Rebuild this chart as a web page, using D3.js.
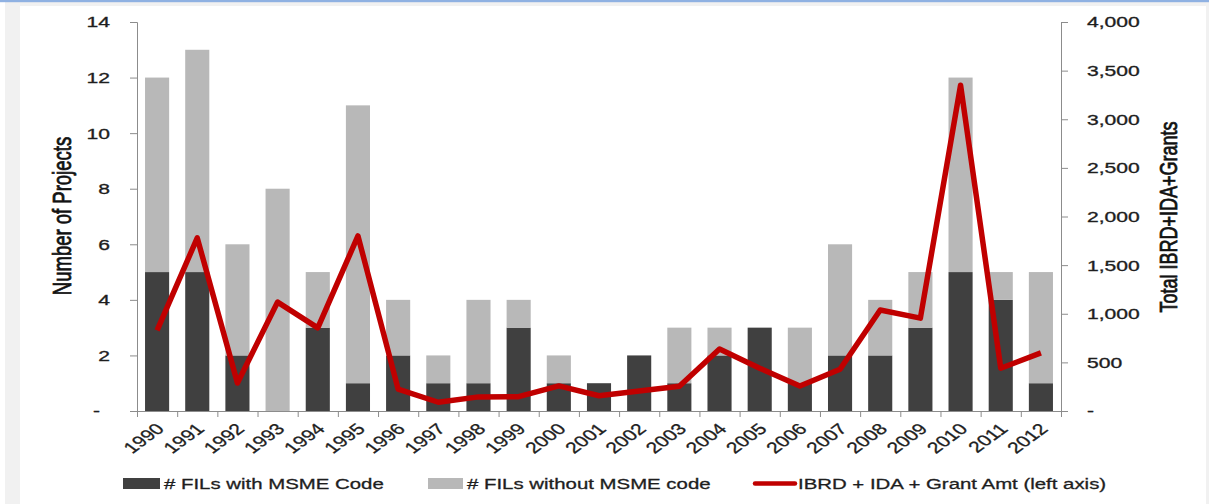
<!DOCTYPE html>
<html>
<head>
<meta charset="utf-8">
<script src="https://cdn.jsdelivr.net/npm/d3@7"></script>
<style>
  html, body { margin: 0; padding: 0; background: #ffffff; }
  svg { display: block; }
  text { font-family: "Liberation Sans", Arial, sans-serif; }
</style>
</head>
<body>
<svg id="chart" width="1209" height="504"></svg>
<script>
// ---- data ----
const years = ["1990","1991","1992","1993","1994","1995","1996","1997","1998","1999","2000","2001","2002","2003","2004","2005","2006","2007","2008","2009","2010","2011","2012"];
const withCode    = [5,5,2,0,3,1,2,1,1,3,1,1,2,1,2,3,1,2,2,3,5,4,1];
const withoutCode = [7,8,4,8,2,10,2,1,3,1,1,0,0,2,1,0,2,4,2,2,7,1,4];
const amount      = [830,1780,288,1120,855,1800,225,90,145,147,258,157,206,255,638,440,257,430,1038,955,3350,440,597];
const leftTicks  = [0,2,4,6,8,10,12,14];
const rightTicks = [0,500,1000,1500,2000,2500,3000,3500,4000];
const seriesNames = ["# FILs with MSME Code", "# FILs without MSME code", "IBRD + IDA + Grant Amt (left axis)"];
const axisTitles = ["Number of Projects", "Total IBRD+IDA+Grants"];

// ---- styling / layout ----
const SX = 1.36;               // horizontal stretch of the reference rendering
const C_DARK = "#404040", C_LIGHT = "#b8b8b8", C_RED = "#c00000", C_AXIS = "#8c8c8c", C_TEXT = "#1e1e1e";
const X0 = 137, X1 = 1061, Y0 = 411, Y1 = 22;

const svg = d3.select("#chart");

// page frame
svg.append("rect").attr("x", 0).attr("y", 0).attr("width", 1209).attr("height", 504).attr("fill", "#ffffff");
svg.append("rect").attr("x", 5).attr("y", 2).attr("width", 1204).attr("height", 502).attr("fill", "#f1f1f1");
svg.append("rect").attr("x", 20).attr("y", 6).attr("width", 1186).attr("height", 498).attr("fill", "#ffffff");
svg.append("rect").attr("x", 0).attr("y", 0).attr("width", 1209).attr("height", 2.2).attr("fill", "#8fb1e2");

// scales
const x = d3.scaleBand().domain(years).range([X0, X1]).paddingInner(0.4).paddingOuter(0.2);
const xIdx = d3.scaleLinear().domain([0, years.length]).range([X0, X1]);
const yL = d3.scaleLinear().domain([0, 14]).range([Y0, Y1]);
const yR = d3.scaleLinear().domain([0, 4000]).range([Y0, Y1]);

function heavy(sel, w) {
  sel.attr("stroke", C_TEXT).attr("stroke-width", w).attr("paint-order", "stroke");
}

// stretch helper for axis-generated texts
function stretchTexts(g) {
  g.selectAll("text").each(function() {
    const t = d3.select(this);
    const ox = +t.attr("x") || 0;
    t.attr("x", ox / SX).attr("transform", `scale(${SX},1)`);
  });
}

// bars
const stacks = years.map((y, i) => ({ year: y, a: withCode[i], b: withoutCode[i] }));
const barG = svg.append("g");
barG.selectAll("rect.dark").data(stacks).join("rect")
  .attr("x", d => x(d.year)).attr("width", x.bandwidth())
  .attr("y", d => yL(d.a)).attr("height", d => yL(0) - yL(d.a))
  .attr("fill", C_DARK);
barG.selectAll("rect.light").data(stacks).join("rect")
  .attr("x", d => x(d.year)).attr("width", x.bandwidth())
  .attr("y", d => yL(d.a + d.b)).attr("height", d => yL(d.a) - yL(d.a + d.b))
  .attr("fill", C_LIGHT);

// left axis
const gL = svg.append("g").attr("transform", `translate(${X0},0)`)
  .call(d3.axisLeft(yL).tickValues(leftTicks).tickSize(7).tickPadding(20)
    .tickFormat(d => d === 0 ? "-" : d3.format(",")(d)));
gL.selectAll("path,line").attr("stroke", C_AXIS);
gL.selectAll("text").attr("font-size", 15.5).attr("fill", C_TEXT).attr("font-family", "Liberation Sans, Arial, sans-serif").call(heavy, 0.35);
gL.selectAll(".tick").filter(d => d === 0).select("text").attr("x", -37);
stretchTexts(gL);

// right axis
const gR = svg.append("g").attr("transform", `translate(${X1},0)`)
  .call(d3.axisRight(yR).tickValues(rightTicks).tickSize(7).tickPadding(19)
    .tickFormat(d => d === 0 ? "-" : d3.format(",")(d)));
gR.selectAll("path,line").attr("stroke", C_AXIS);
gR.selectAll("text").attr("font-size", 15.5).attr("fill", C_TEXT).attr("font-family", "Liberation Sans, Arial, sans-serif").call(heavy, 0.35);
stretchTexts(gR);

// bottom axis: boundary ticks
const gB = svg.append("g").attr("transform", `translate(0,${Y0})`)
  .call(d3.axisBottom(xIdx).tickValues(d3.range(years.length + 1)).tickSize(6).tickFormat(""));
gB.selectAll("path,line").attr("stroke", C_AXIS);

// bottom axis: labels at band centres
const gBL = svg.append("g").attr("transform", `translate(0,${Y0})`)
  .call(d3.axisBottom(x).tickSize(0).tickPadding(0));
gBL.select(".domain").remove();
gBL.selectAll("text")
  .attr("font-size", 15.5).attr("fill", C_TEXT).attr("font-family", "Liberation Sans, Arial, sans-serif")
  .attr("text-anchor", "end").attr("x", 0).attr("y", 0).attr("dy", "0.35em")
  .attr("transform", `translate(3,15) scale(${SX},1) rotate(-45)`)
  .call(heavy, 0.3);

// line
const line = d3.line().x((d, i) => x(years[i]) + x.bandwidth() / 2).y(d => yR(d));
svg.append("path").datum(amount)
  .attr("d", line).attr("fill", "none").attr("stroke", C_RED)
  .attr("stroke-width", 5.5).attr("stroke-linejoin", "round").attr("stroke-linecap", "butt");

// axis titles
svg.append("text").text(axisTitles[0])
  .attr("text-anchor", "middle").attr("dy", "0.35em")
  .attr("font-size", 18.5).attr("fill", "#111")
  .attr("transform", `translate(62,216) scale(${SX},1) rotate(-90)`)
  .call(heavy, 0.6);
svg.append("text").text(axisTitles[1])
  .attr("text-anchor", "middle").attr("dy", "0.35em")
  .attr("font-size", 18).attr("fill", "#111")
  .attr("transform", `translate(1168,217) scale(${SX},1) rotate(-90)`)
  .call(heavy, 0.6);

// legend
const legY = 483.5;
const leg = [
  { type: "rect", color: C_DARK,  x0: 123, x1: 160, tx: 164, label: seriesNames[0] },
  { type: "rect", color: C_LIGHT, x0: 428, x1: 463, tx: 467, label: seriesNames[1] },
  { type: "line", color: C_RED,   x0: 755, x1: 795, tx: 798, label: seriesNames[2] }
];
leg.forEach(l => {
  if (l.type === "rect") {
    svg.append("rect").attr("x", l.x0).attr("y", legY - 5.5).attr("width", l.x1 - l.x0).attr("height", 11).attr("fill", l.color);
  } else {
    svg.append("line").attr("x1", l.x0).attr("x2", l.x1).attr("y1", legY).attr("y2", legY)
      .attr("stroke", l.color).attr("stroke-width", 4.5).attr("stroke-linecap", "round");
  }
  svg.append("text").text(l.label)
    .attr("font-size", 15).attr("fill", C_TEXT).attr("dy", "0.35em")
    .attr("transform", `translate(${l.tx},${legY}) scale(${SX},1)`)
    .call(heavy, 0.3);
});
</script>
</body>
</html>
